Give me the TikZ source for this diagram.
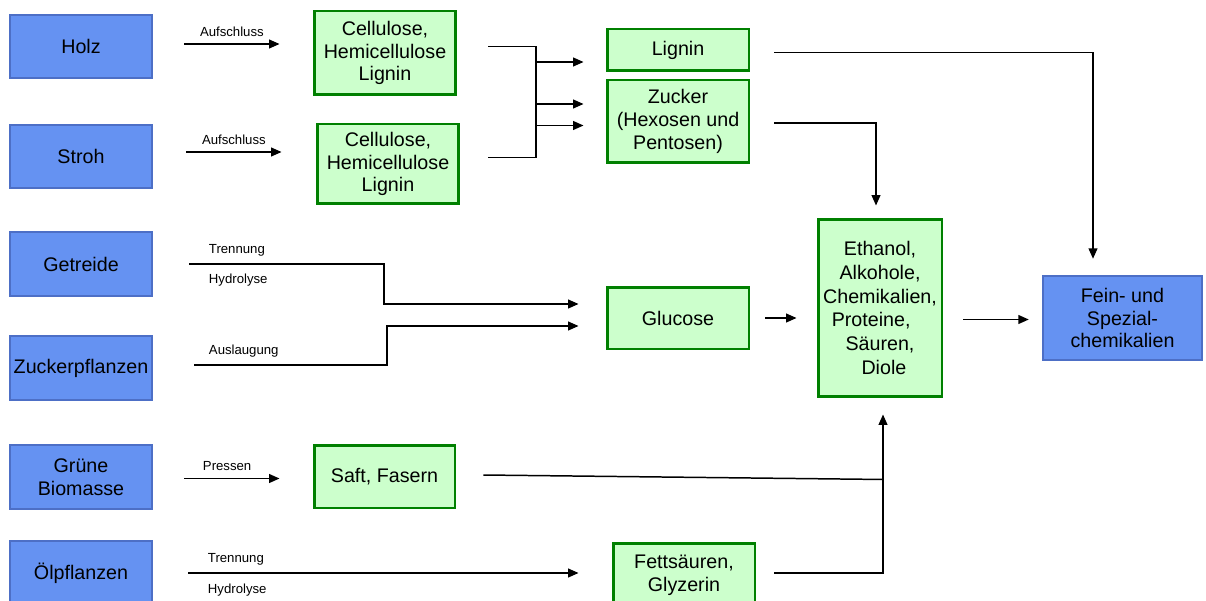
\documentclass[tikz,border=0pt]{standalone}
\usepackage{fontspec}
\setmainfont{Liberation Sans}
\usetikzlibrary{arrows.meta,calc}
\definecolor{bioblue}{HTML}{6592F2}
\definecolor{biobluedark}{HTML}{4D6FC6}
\definecolor{biogreen}{HTML}{CCFFCC}
\definecolor{biogreendark}{HTML}{008000}
\tikzset{
  src/.style={draw=biobluedark,fill=bioblue,line width=1.4pt,align=center,inner sep=1pt,
    minimum width=2.84cm,minimum height=1.27cm,font=\fontsize{11.2}{12.9}\selectfont},
  prod/.style={src,draw=biogreendark,fill=biogreen,line width=1.7pt},
  ln/.style={line width=0.85pt},
  ar/.style={ln,-{Triangle[length=5.9pt,width=5pt]}},
  lbl/.style={font=\fontsize{7.5}{8}\selectfont,inner sep=0pt},
}
\begin{document}
\begin{tikzpicture}[x=0.02cm,y=-0.02cm]
  \useasboundingbox (0,0) rectangle (1206,601);
  \clip (0,0) rectangle (1206,601);
  % Rohstoffe
  \node[src] (holz) at (81,46.5) {Holz};
  \node[src] (stroh) at (81,156.5) {Stroh};
  \node[src] (getreide) at (81,264) {Getreide};
  \node[src] (zpfl) at (81,368) {Zuckerpflanzen};
  \node[src] (gruen) at (81,477) {Grüne\\Biomasse};
  \node[src] (oel) at (81,573) {Ölpflanzen};
  % Zwischenprodukte
  \node[prod,minimum height=1.68cm] (cell1) at (385,53) {Cellulose,\\Hemicellulose\\Lignin};
  \node[prod,minimum height=1.6cm] (cell2) at (388,164) {Cellulose,\\Hemicellulose\\Lignin};
  \node[prod,minimum height=0.84cm] (lignin) at (678,50) {Lignin};
  \node[prod,minimum height=1.66cm] (zucker) at (678,121.5) {Zucker\\(Hexosen und\\Pentosen)};
  \node[prod,minimum height=1.24cm] (glucose) at (678,318) {Glucose};
  \node[prod,minimum height=1.26cm,minimum width=2.82cm] (saft) at (384.5,476.5) {Saft, Fasern};
  \node[prod] (fett) at (684,575) {Fettsäuren,\\Glyzerin};
  \node[prod,minimum width=2.48cm,minimum height=3.56cm,font=\fontsize{11.2}{13.6}\selectfont] (ethanol) at (880,308)
    {Ethanol,\\Alkohole,\\Chemikalien,\\Proteine,\rule{0.9em}{0pt}\\Säuren,\\\rule{0.4em}{0pt}Diole};
  \node[src,minimum width=3.18cm,minimum height=1.68cm] (fein) at (1122.5,318) {Fein- und\\Spezial-\\chemikalien};
  % Aufschluss
  \draw[ar] ($(holz.east)+(31,-2.5)$) -- ($(cell1.west|-holz.east)+(-33,-2.5)$)
    node[lbl,midway,anchor=base,yshift=4.3pt]{Aufschluss};
  \draw[ar] ($(stroh.east)+(33,-4.5)$) -- ($(cell2.west|-stroh.east)+(-34,-4.5)$)
    node[lbl,midway,anchor=base,yshift=4pt]{Aufschluss};
  \coordinate (split) at (536,100);
  \draw[ln] ($(cell1.east)+(31,-6.5)$) -| (split) |- ($(cell2.east)+(28,-6.5)$);
  \draw[ar] ($(split)+(0,-38)$) -- ($(lignin.west|-split)+(-22,-38)$);
  \draw[ar] ($(split)+(0,4)$) -- ($(lignin.west|-split)+(-22,4)$);
  \draw[ar] ($(split)+(0,25.5)$) -- ($(lignin.west|-split)+(-22,25.5)$);
  \draw[ar] ($(lignin.east)+(24,2.5)$) -| ($(fein.north)+(-29.5,-16)$);
  \draw[ar] ($(zucker.east)+(24,1.5)$) -| ($(ethanol.north)+(-4,-12)$);
  % Glucose
  \draw[ar] ($(getreide.east)+(36,0)$) -- ++(195,0)
    node[lbl,at start,anchor=base west,xshift=0.38cm,yshift=5.7pt]{Trennung}
    node[lbl,at start,anchor=base west,xshift=0.38cm,yshift=-11.3pt]{Hydrolyse}
    |- ($(glucose.west)+(-27,-14)$);
  \draw[ar] ($(zpfl.east)+(41,-3)$) -- ++(193,0)
    node[lbl,at start,anchor=base west,xshift=0.28cm,yshift=6.2pt]{Auslaugung}
    |- ($(glucose.west)+(-27,8)$);
  \draw[ar] ($(glucose.east)+(15,0)$) -- ($(ethanol.west|-glucose.east)+(-20,0)$);
  \draw[ar] ($(ethanol.east|-fein.west)+(20,1.5)$) -- ($(fein.west)+(-13,1.5)$);
  % Pressen, Fettsaeuren
  \draw[ar] ($(gruen.east)+(31,1.5)$) -- ($(saft.west|-gruen.east)+(-33,1.5)$)
    node[lbl,at start,anchor=base west,xshift=0.36cm,yshift=4.5pt]{Pressen};
  \coordinate (merge) at ($(ethanol.south)+(3,81)$);
  \draw[ln] ($(saft.east)+(27,-1.5)$) -- (merge);
  \draw[ar] ($(oel.east)+(35,0)$) -- ($(fett.west|-oel.east)+(-33,0)$)
    node[lbl,at start,anchor=base west,xshift=0.38cm,yshift=5.9pt]{Trennung}
    node[lbl,at start,anchor=base west,xshift=0.38cm,yshift=-11.4pt]{Hydrolyse};
  \draw[ar] ($(fett.east)+(18,-2)$) -| ($(ethanol.south)+(3,16)$);
\end{tikzpicture}
\end{document}
